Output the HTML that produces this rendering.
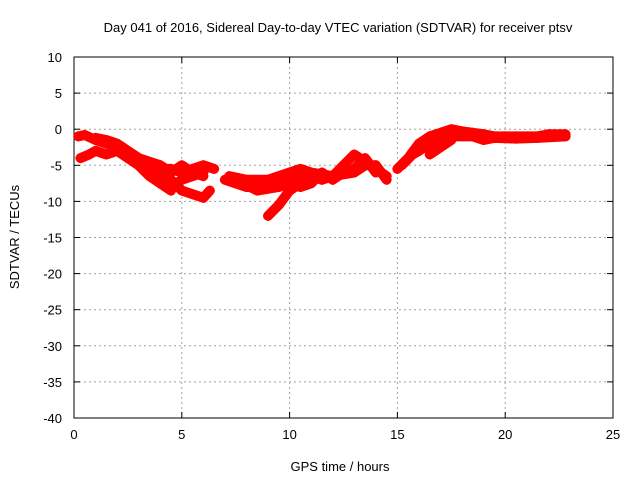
<!DOCTYPE html>
<html><head><meta charset="utf-8"><style>
body{margin:0;background:#fff}
svg text{font-family:"Liberation Sans",sans-serif;font-size:13px;fill:#000}
</style></head><body>
<svg id="c" width="640" height="480">
<text x="338" y="32" text-anchor="middle">Day 041 of 2016, Sidereal Day-to-day VTEC variation (SDTVAR) for receiver ptsv</text>
<g id="grid"></g><g id="axes"></g><g id="marks"></g>
<text x="340" y="471" text-anchor="middle">GPS time / hours</text>
<text transform="translate(19,237) rotate(-90)" text-anchor="middle">SDTVAR / TECUs</text>
</svg>
<script>
const xTicks=[0,5,10,15,20,25];
const yTicks=[10,5,0,-5,-10,-15,-20,-25,-30,-35,-40];
const trackA=[[0.2,-1],[0.5,-0.8],[1,-1.5],[1.5,-2],[2,-2.5],[2.5,-3.5],[3,-4.5],[3.5,-5],[4,-5.5],[4.5,-5.5],[5,-6],[5.5,-5.5],[6,-5],[6.5,-5.5]];
const trackB=[[0.3,-4],[0.7,-3.5],[1,-3],[1.5,-3.5],[2,-3],[2.5,-4],[3,-5],[3.5,-6.5],[4,-7.5],[4.5,-8],[5,-7],[5.5,-6.5],[6,-6]];
const trackC=[[3,-5],[3.5,-6],[4,-5.8],[4.5,-7],[5,-8.5],[5.5,-9],[6,-9.5],[6.3,-8.5]];
const trackD=[[3.3,-5.5],[4,-7.5],[4.5,-8.5]];
const trackF=[[1,-1.2],[1.5,-1.5],[2,-2],[2.5,-3],[3,-4],[3.5,-4.5],[4,-5],[4.5,-6],[5,-5],[5.5,-6],[6,-6.5]];
const trackM=[[7,-7],[7.5,-7.5],[8,-8],[8.5,-8],[9,-8],[9.5,-7.5],[10,-7],[10.5,-6.5],[11,-6.5],[11.5,-7],[12,-6.5],[12.5,-5],[13,-3.5],[13.5,-4.5],[14,-5.5],[14.5,-6.5]];
const trackE=[[7.2,-6.5],[8,-7],[9,-7],[9.5,-6.5],[10,-6],[10.5,-5.5],[11,-6],[12,-6.5],[13,-6],[13.5,-5],[14,-5],[14.5,-7]];
const trackG=[[7.5,-7],[8.5,-8.5],[9.5,-8],[10,-7.5],[10.5,-8],[11,-7.5],[11.5,-6],[12,-7],[12.5,-6],[13,-5.5],[13.5,-4],[14,-6]];
const trackDip=[[9,-12],[9.5,-10.5],[10,-8.5],[10.5,-7.5]];
const trackR=[[15,-5.5],[15.5,-4],[16,-2],[16.5,-1],[17,-0.5],[17.5,0],[18,-0.3],[18.5,-0.5],[19,-0.7],[19.5,-1],[20,-1],[20.5,-1],[21,-1],[21.5,-1],[22,-0.7],[22.8,-0.7]];
const trackR2=[[15.2,-5],[15.7,-3.5],[16,-3],[16.5,-2],[17,-1.5],[17.5,-1],[18.5,-1],[19,-1.5],[19.5,-1.2],[20.5,-1.3],[21.5,-1.2],[22.8,-1]];
const trackR3=[[16.5,-3.5],[17,-2.5],[17.5,-1.5]];
const tracks=[trackA,trackB,trackC,trackD,trackF,trackM,trackE,trackG,trackDip,trackR,trackR2,trackR3];
const X0=74,X1=613,Y0=57,Y1=418;
const xs=v=>X0+(v-0)/25*(X1-X0);
const ys=v=>Y0+(10-v)/50*(Y1-Y0);
const NS='http://www.w3.org/2000/svg';
function mk(t,a,p){const e=document.createElementNS(NS,t);for(const k in a)e.setAttribute(k,a[k]);p.appendChild(e);return e;}
const grid=document.getElementById('grid'),axes=document.getElementById('axes'),marks=document.getElementById('marks');
xTicks.forEach(t=>{const x=xs(t);
 if(t>0&&t<25){const l=mk('line',{x1:x,x2:x,y1:Y0,y2:Y1,stroke:'#a0a0a0','stroke-dasharray':'2,3'},grid);
 
 }
 mk('line',{x1:x,x2:x,y1:Y1,y2:Y1-6,stroke:'#000'},axes);mk('line',{x1:x,x2:x,y1:Y0,y2:Y0+6,stroke:'#000'},axes);
 const tx=mk('text',{x:x,y:Y1+21,'text-anchor':'middle'},axes);tx.textContent=t;
 
 });
yTicks.forEach(t=>{const y=ys(t);
 if(t<10&&t>-40){const l=mk('line',{x1:X0,x2:X1,y1:y,y2:y,stroke:'#a0a0a0','stroke-dasharray':'2,3'},grid);
 
 }
 mk('line',{x1:X0,x2:X0+6,y1:y,y2:y,stroke:'#000'},axes);mk('line',{x1:X1,x2:X1-6,y1:y,y2:y,stroke:'#000'},axes);
 const tx=mk('text',{x:X0-12,y:y+5,'text-anchor':'end'},axes);tx.textContent=t;
 
 });
const fr=mk('rect',{x:X0,y:Y0,width:X1-X0,height:Y1-Y0,fill:'none',stroke:'#000'},axes);


tracks.forEach((tr,i)=>{
 const pl=mk('polyline',{points:tr.map(p=>xs(p[0])+','+ys(p[1])).join(' '),fill:'none',stroke:'#f00','stroke-width':10,'stroke-linejoin':'round','stroke-linecap':'round'},marks);
 
 
 tr.forEach(p=>{const x=xs(p[0]),y=ys(p[1]);
  const g=mk('path',{d:`M${x-5},${y}h10M${x},${y-5}v10`,stroke:'#f00','stroke-width':1.5},marks);
  
  });
});
</script>
</body></html>
